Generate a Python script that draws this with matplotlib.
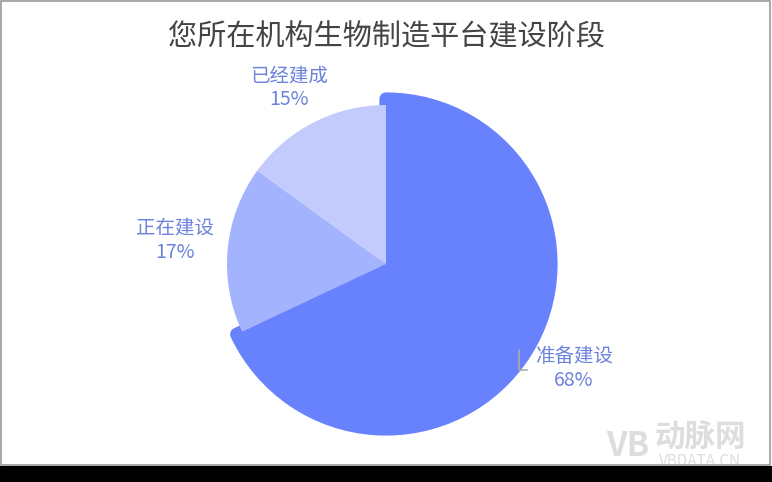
import numpy as np
import matplotlib
matplotlib.use('Agg')
import matplotlib.pyplot as plt
from matplotlib.patches import Rectangle

plt.rcParams['font.family'] = ['Noto Sans CJK SC', 'DejaVu Sans']

TITLE = '您所在机构生物制造平台建设阶段'
stages = ['准备建设', '正在建设', '已经建成']
shares = [68, 17, 15]
colors = ['#6882fd', '#a4b3fd', '#c3cbfd']
label_color = '#6c82dc'

W, H = 772, 482
fig = plt.figure(figsize=(W / 100, H / 100), dpi=100)
ax = fig.add_axes([0, 0, 1, 1])

cx, cy = 386, H - 264
r_small = 159

wedges, texts = ax.pie(shares, colors=colors, startangle=90, counterclock=False,
                       center=(cx, cy), radius=r_small, labels=None,
                       wedgeprops=dict(linewidth=0), frame=True)
ax.set_xlim(0, W)
ax.set_ylim(0, H)
ax.set_aspect('equal')
ax.axis('off')

# the largest slice sits out a bit, with rounded corners
big = wedges[0]
big.set_radius(r_small + 6)
big.set_edgecolor(colors[0])
big.set_linewidth(9.5)
big.set_joinstyle('round')
big.set_zorder(1)
for w in wedges[1:]:
    w.set_zorder(2)

# labels
label_dist = [215, 212, 201]
label_turn = [3.2, -1, 1.8]
for w, name, val, d, t in zip(wedges, stages, shares, label_dist, label_turn):
    mid = np.deg2rad((w.theta1 + w.theta2) / 2 + t)
    lx = cx + d * np.cos(mid)
    ly = cy + d * np.sin(mid)
    ax.text(lx, ly, f'{name}\n{val}%', ha='center', va='center',
            fontsize=14, color=label_color, linespacing=1.2, zorder=3)
    if name == '准备建设':
        # short leader line
        ax.plot([lx - 55, lx - 55, lx - 47], [ly + 19, ly - 1, ly - 1],
                color='#aaaaaa', lw=1.2, zorder=3)

fig.text(0.5, 1 - 37 / H, TITLE, ha='center', va='center',
         fontsize=21, color='#444444')

# frame and bottom band
fig.patches.append(Rectangle((0.5 / W, 1 - 465 / H), 769 / W, 464 / H,
                             transform=fig.transFigure, fill=False,
                             edgecolor='#999999', lw=1.2))
fig.patches.append(Rectangle((0, 0), 1, 16 / H, transform=fig.transFigure,
                             facecolor='black', edgecolor='none'))

# watermark
fig.text(700 / W, 1 - 438 / H, '动脉网', ha='center', va='center',
         fontsize=22, color='#aaaaaa', alpha=0.4, fontweight='bold')
fig.text(700 / W, 1 - 461 / H, 'VBDATA.CN', ha='center', va='center',
         fontsize=11, color='#aaaaaa', alpha=0.4)
fig.text(628 / W, 1 - 446 / H, 'VB', ha='center', va='center',
         fontsize=24, color='#aaaaaa', alpha=0.4, fontweight='bold')

fig.savefig('out.png', dpi=100)
